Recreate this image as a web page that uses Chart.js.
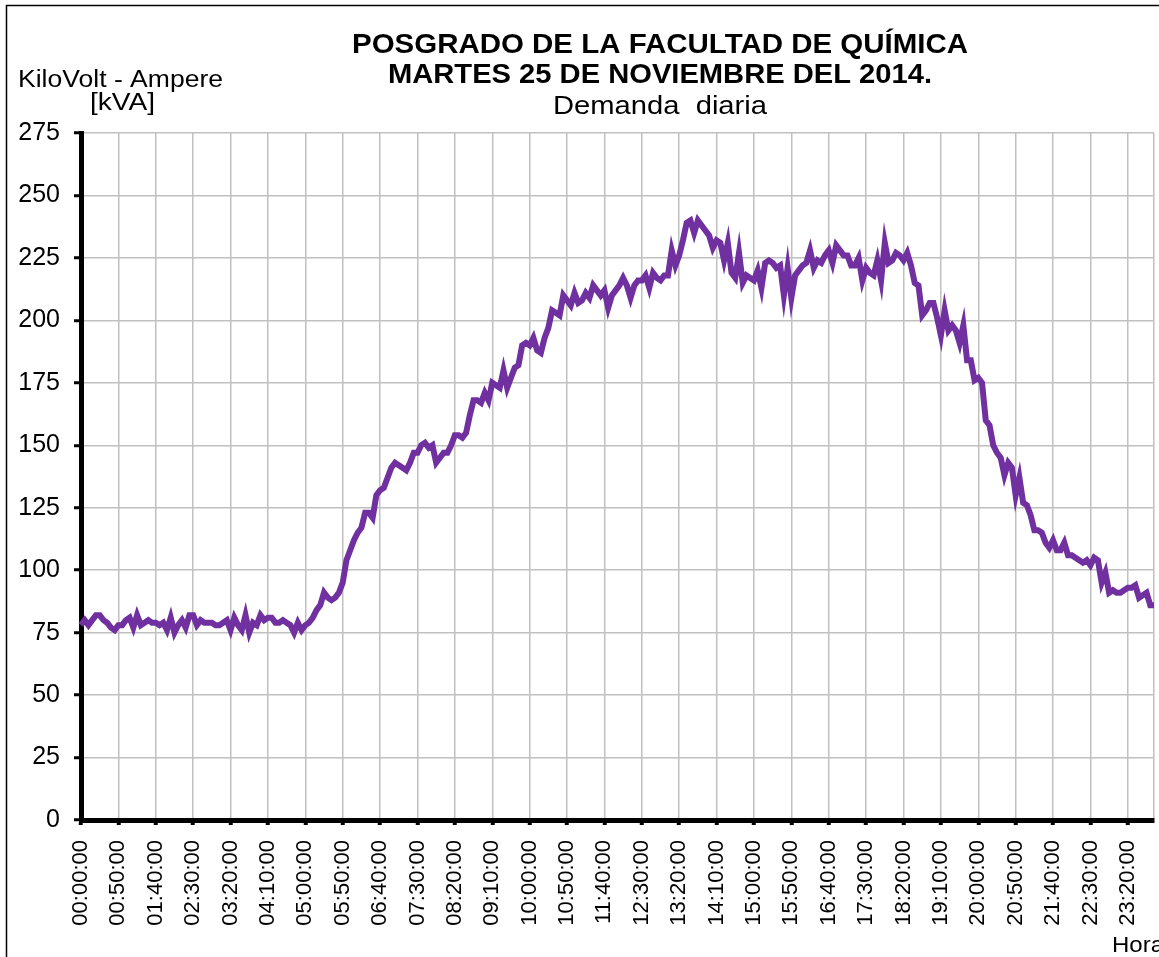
<!DOCTYPE html>
<html>
<head>
<meta charset="utf-8">
<title>Demanda diaria</title>
<script src="https://cdn.jsdelivr.net/npm/chart.js@4"></script>
<style>
  body { margin: 0; background: #fff; }
  #wrap { position: relative; width: 1159px; height: 957px; }
</style>
</head>
<body>
<div id="wrap"><canvas id="demandChart"></canvas></div>
<script>
// 5-minute readings, 00:00:00 .. 23:55:00
const times = [];
for (let m = 0; m < 24 * 60; m += 5) {
    const h = String(Math.floor(m / 60)).padStart(2, '0');
    const mm = String(m % 60).padStart(2, '0');
    times.push(h + ':' + mm + ':00');
}

// kVA demand
const demanda = [
    78, 80, 78, 80, 82, 82, 80, 79, 77, 76,
    78, 78, 80, 81, 77, 82, 78, 79, 80, 79,
    79, 78, 79, 76, 81, 75, 78, 80, 77, 82,
    82, 78, 80, 79, 79, 79, 78, 78, 79, 80,
    76, 81, 78, 76, 82, 75, 79, 78, 82, 80,
    81, 81, 79, 79, 80, 79, 78, 75, 79, 76,
    78, 79, 81, 84, 86, 91, 89, 88, 89, 91,
    95, 104, 108, 112, 115, 117, 123, 123, 121, 130,
    132, 133, 137, 141, 143, 142, 141, 140, 143, 147,
    147, 150, 151, 149, 150, 143, 145, 147, 147, 150,
    154, 154, 153, 155, 162, 168, 168, 167, 171, 168,
    175, 174, 173, 180, 173, 177, 181, 182, 190, 191,
    190, 193, 188, 187, 193, 197, 204, 203, 202, 210,
    208, 206, 211, 207, 208, 211, 209, 214, 212, 210,
    212, 205, 210, 212, 214, 217, 214, 209, 214, 216,
    216, 218, 213, 219, 217, 216, 218, 218, 228, 222,
    226, 232, 239, 240, 235, 240, 238, 236, 234, 229,
    232, 231, 224, 231, 219, 217, 227, 215, 218, 217,
    216, 220, 213, 223, 224, 223, 221, 222, 210, 221,
    209, 218, 220, 222, 223, 228, 221, 224, 223, 226,
    228, 223, 230, 228, 226, 226, 222, 222, 225, 216,
    221, 219, 218, 224, 216, 231, 223, 224, 227, 226,
    224, 227, 222, 215, 214, 202, 204, 207, 207, 201,
    194, 204, 196, 198, 196, 191, 198, 184, 184, 176,
    177, 175, 160, 158, 150, 147, 145, 138, 143, 141,
    130, 137, 127, 126, 122, 116, 116, 115, 111, 109,
    112, 108, 108, 111, 106, 106, 105, 104, 103, 104,
    102, 105, 104, 95, 99, 91, 92, 91, 91, 92,
    93, 93, 94, 89, 90, 91, 86, 86
];

const yMin = 0;
const yMax = 275;
const yStep = 25;
const labelEvery = 10;   // one label / gridline every 50 min

const titleLines = ['POSGRADO DE LA FACULTAD DE QUÍMICA', 'MARTES 25 DE NOVIEMBRE DEL 2014.'];
const subTitle = 'Demanda  diaria';
const yTitle = ['KiloVolt - Ampere', '[kVA]'];
const xTitle = 'Hora';

const FONT = "'Liberation Sans', Arial, sans-serif";
Chart.defaults.font.family = FONT;
Chart.defaults.color = '#000';

// the reference's text is a little wider than the font, so stretch to width
function stretchText(ctx, text, x, y, font, width, align) {
    ctx.font = font;
    const w = ctx.measureText(text).width;
    const k = width ? width / w : 1;
    ctx.save();
    ctx.translate(x, y);
    ctx.scale(k, 1);
    ctx.textAlign = align || 'center';
    ctx.fillText(text, 0, 0);
    ctx.restore();
}

// titles, axis names and the outer frame
const textPlugin = {
    id: 'textPlugin',
    afterDraw(chart) {
        const ctx = chart.ctx;
        ctx.save();
        ctx.strokeStyle = '#000';
        ctx.lineWidth = 1.5;
        ctx.beginPath();
        ctx.moveTo(6.5, 957);
        ctx.lineTo(6.5, 5.5);
        ctx.lineTo(1159, 5.5);
        ctx.stroke();

        ctx.fillStyle = '#000';
        ctx.textBaseline = 'alphabetic';
        stretchText(ctx, titleLines[0], 660, 53, 'bold 28px ' + FONT, 616);
        stretchText(ctx, titleLines[1], 660, 83, 'bold 28px ' + FONT, 544);
        stretchText(ctx, subTitle, 660, 114, '26px ' + FONT, 214);
        stretchText(ctx, yTitle[0], 120.5, 87, '23px ' + FONT, 205);
        stretchText(ctx, yTitle[1], 122.5, 110, '23px ' + FONT, 65);
        stretchText(ctx, xTitle, 1112, 952, '22px ' + FONT, 52, 'left');
        ctx.restore();
    }
};

const marked = i => i % labelEvery === 0 || i === times.length - 1;

new Chart(document.getElementById('demandChart'), {
    type: 'line',
    data: {
        labels: times,
        datasets: [{
            label: 'Demanda',
            data: demanda,
            borderColor: '#7030A0',
            borderWidth: 6,
            pointRadius: 0,
            tension: 0,
            fill: false
        }]
    },
    options: {
        responsive: true,
        maintainAspectRatio: false,
        animation: false,
        layout: { padding: { top: 133, right: 5, bottom: 0, left: 0 } },
        plugins: {
            legend: { display: false },
            title: { display: false },
            tooltip: { enabled: false }
        },
        scales: {
            x: {
                type: 'category',
                offset: false,
                border: { color: '#000', width: 5 },
                grid: {
                    color: c => marked(c.index) ? '#c0c0c0' : 'rgba(0,0,0,0)',
                    lineWidth: 1.5,
                    tickColor: c => (c.index % labelEvery === 0) ? '#000' : 'rgba(0,0,0,0)',
                    tickLength: 5,
                    tickWidth: 4
                },
                ticks: {
                    autoSkip: false,
                    minRotation: 90,
                    maxRotation: 90,
                    padding: 15,
                    font: { size: 22 },
                    color: '#000',
                    callback: (v, i) => i % labelEvery === 0 ? times[i] : ''
                },
                afterFit: s => {
                    s.height = 137;
                    s.paddingLeft = 0;
                    s.paddingRight = 0;
                }
            },
            y: {
                min: yMin,
                max: yMax,
                border: { color: '#000', width: 5 },
                grid: {
                    color: '#c0c0c0',
                    lineWidth: 1.5,
                    tickColor: '#000',
                    tickLength: 7,
                    tickWidth: 3
                },
                ticks: {
                    stepSize: yStep,
                    padding: 14,
                    font: { size: 25 },
                    color: '#000'
                },
                afterFit: s => { s.width = 81; }
            }
        }
    },
    plugins: [textPlugin]
});
</script>
</body>
</html>
